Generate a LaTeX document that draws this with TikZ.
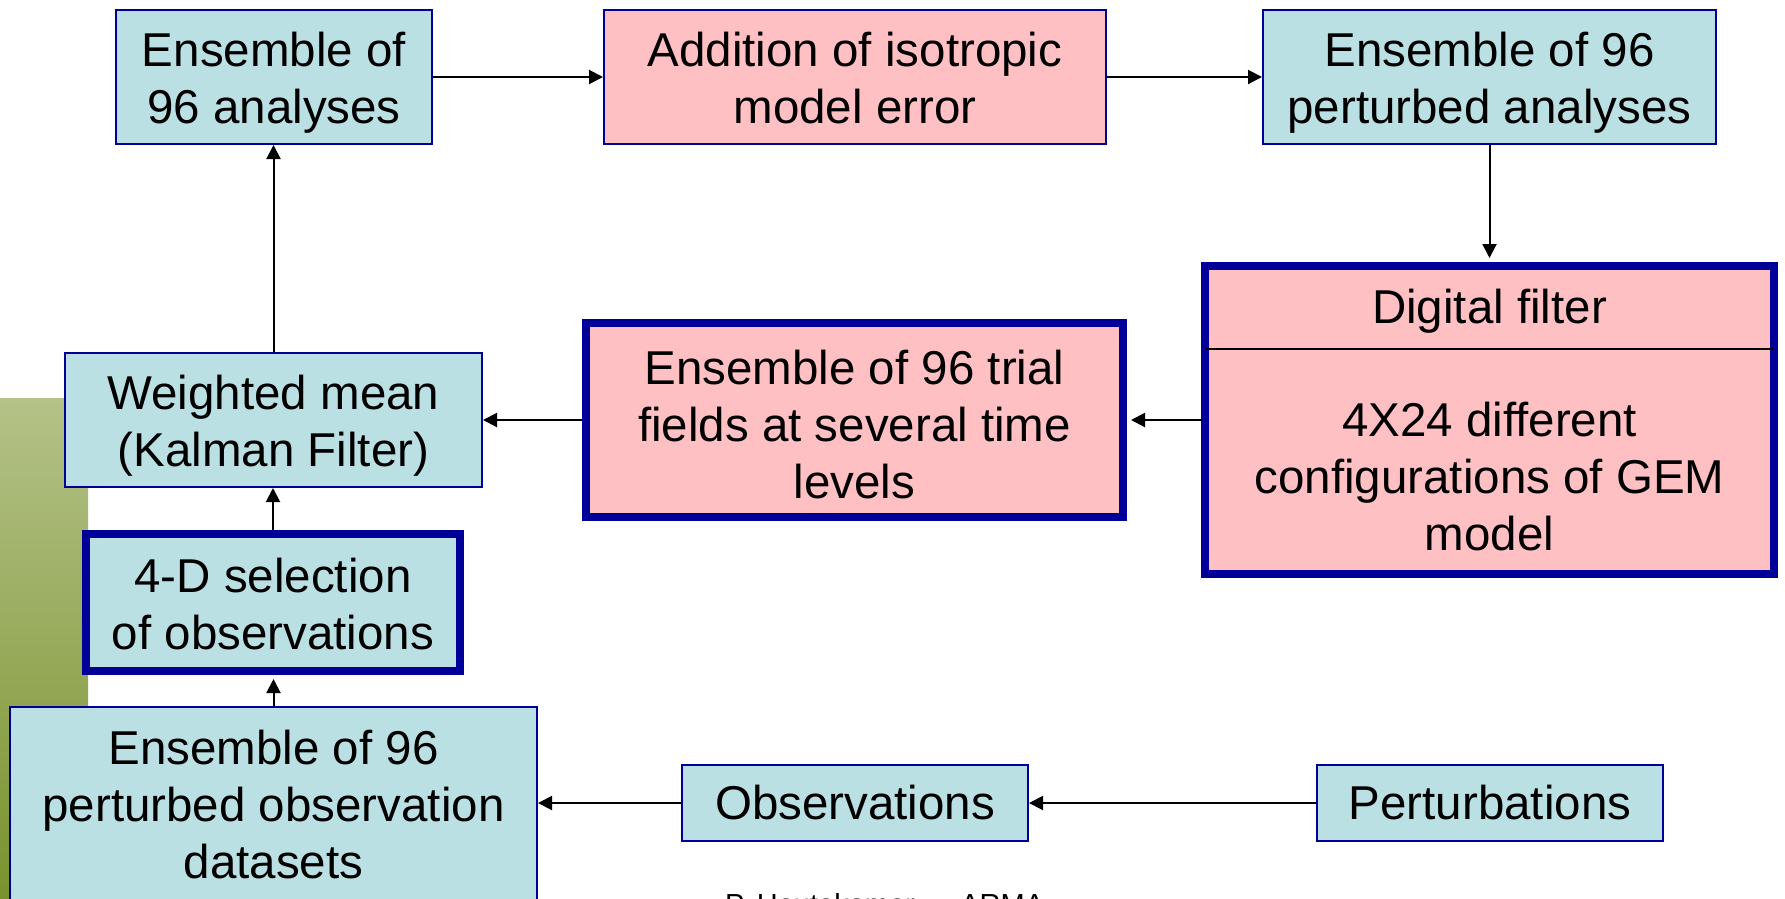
\documentclass[tikz,border=0pt]{standalone}
\usepackage{fontspec}
\setmainfont{Liberation Sans}
\usetikzlibrary{arrows.meta}
\definecolor{boxblue}{RGB}{186,224,227}
\definecolor{boxpink}{RGB}{255,192,195}
\definecolor{navy}{RGB}{0,0,153}
\definecolor{olivetop}{RGB}{180,194,136}
\definecolor{olivebot}{RGB}{122,146,46}
\newcommand\topstrut{\rule{0pt}{46pt}}
\newcommand\topstrutE{\rule{0pt}{52pt}}
\newcommand\botstrut{\rule[-10pt]{0pt}{10pt}}
\begin{document}
\begin{tikzpicture}[x=1pt,y=-1pt,
  every node/.style={font=\fontsize{47.5}{57}\selectfont, align=center, inner sep=0pt},
  bluebox/.style={draw=navy, line width=2pt, fill=boxblue},
  pinkbox/.style={draw=navy, line width=2pt, fill=boxpink},
  heavy/.style={line width=8pt},
  arr/.style={draw=black, line width=2pt, -{Triangle[length=14pt,width=14pt]}},
  tothick/.style={shorten >=4pt}]
\useasboundingbox (0,0) rectangle (1785,898);
\clip (0,0) rectangle (1785,898);
\fill[white] (0,0) rectangle (1785,898);
\shade[top color=olivetop, bottom color=olivebot] (0,398) rectangle (88,898);

\node[bluebox, minimum width=316pt, minimum height=134pt] (A) at (274,77) {\topstrut Ensemble of\\96 analyses\botstrut};
\node[pinkbox, minimum width=502pt, minimum height=134pt] (B) at (855,77) {\topstrut Addition of isotropic\\model error\botstrut};
\node[bluebox, minimum width=453pt, minimum height=134pt] (C) at (1489.5,77) {\topstrut Ensemble of 96\\perturbed analyses\botstrut};
\node[pinkbox, heavy, minimum width=569pt, minimum height=308pt] (D) at (1489.5,420) {};
\node (Dtitle) at (1489.5,311.5) {Digital filter};
\path (D.north west) ++(4,87) coordinate (d1);
\path (D.north east) ++(-4,87) coordinate (d2);
\draw[line width=1.5pt, black] (d1) -- (d2);
\node (Dbody) at (1489.5,477) {4X24 different\\configurations of GEM\\model};
\node[pinkbox, heavy, minimum width=537pt, minimum height=194pt] (E) at (854.5,420) {\topstrutE Ensemble of 96 trial\\fields at several time\\levels\botstrut};
\node[bluebox, minimum width=417pt, minimum height=134pt] (F) at (273.5,420) {\topstrut Weighted mean\\(Kalman Filter)\botstrut};
\node[bluebox, heavy, minimum width=374pt, minimum height=137pt] (G) at (273,602.5) {\topstrut 4-D selection\\of observations\botstrut};
\node[bluebox, minimum width=527pt, minimum height=196pt] (H) at (273.5,805) {Ensemble of 96\\perturbed observation\\datasets};
\node[bluebox, minimum width=346pt, minimum height=76pt] (I) at (855,803) {Observations};
\node[bluebox, minimum width=346pt, minimum height=76pt] (J) at (1490,803) {Perturbations};

\draw[arr] (A.east) -- (B.west);
\draw[arr] (B.east) -- (C.west);
\draw[arr, tothick] (C.south) -- (C.south |- D.north);
\draw[arr, tothick] (D.west) -- (D.west -| E.east);
\draw[arr] (E.west) -- (E.west -| F.east);
\draw[arr] (F.north) -- (F.north |- A.south);
\draw[arr] (G.north) -- (G.north |- F.south);
\draw[arr, tothick] (H.north) -- (H.north |- G.south);
\draw[arr] (I.west) -- (I.west -| H.east);
\draw[arr] (J.west) -- (I.east);

\node[font=\fontsize{29}{35}\selectfont, anchor=base west] (foot) at (725,914) {P. Houtekamer,\hspace{39pt}ARMA};
\end{tikzpicture}
\end{document}
